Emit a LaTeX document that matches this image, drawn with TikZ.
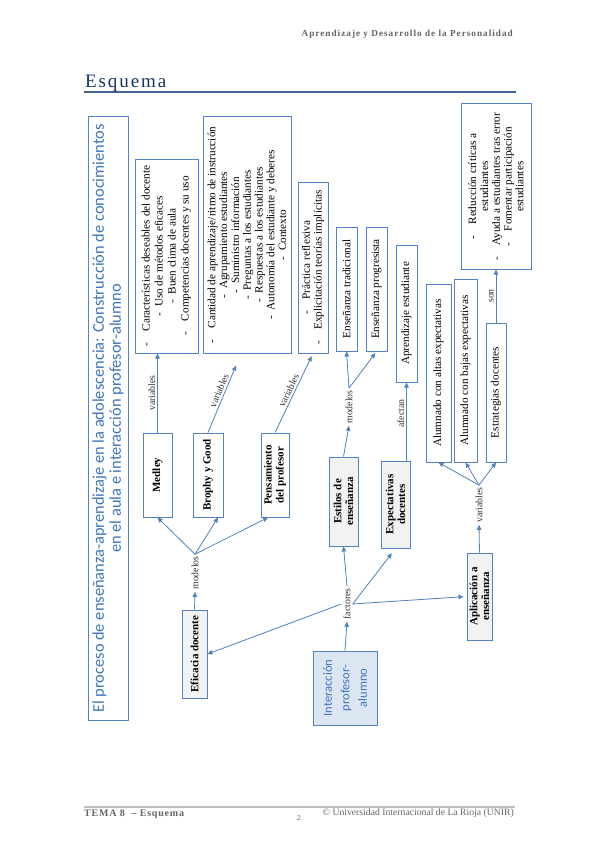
\documentclass[tikz,border=0pt]{standalone}
\usepackage{fontspec}
\setmainfont{Liberation Serif}
\newfontfamily\calibri{Carlito}
\usetikzlibrary{arrows.meta}

\definecolor{boxblue}{RGB}{84,130,200}
\definecolor{lineblue}{RGB}{79,129,189}
\definecolor{titleblue}{RGB}{60,118,190}
\definecolor{navy}{RGB}{23,54,93}
\definecolor{esqline}{RGB}{68,98,145}
\definecolor{boxgray}{RGB}{242,242,242}
\definecolor{boxlight}{RGB}{220,230,242}
\definecolor{headgray}{RGB}{100,100,100}

\tikzset{
    box/.style={draw=boxblue, line width=1pt, fill=white, rotate=90, align=center,
        inner sep=2pt, font=\fontsize{11.2}{11.8}\selectfont},
    namebox/.style={box, font=\fontsize{11}{11.8}\selectfont\bfseries},
    factbox/.style={namebox, fill=boxgray},
    boxsize/.style 2 args={minimum width=#1pt, minimum height=#2pt},
    lbl/.style={inner sep=2pt, text=black!80, font=\fontsize{9.8}{11}\selectfont},
    lblnode/.style={lbl, rotate=90},
    arr/.style={draw=lineblue, line width=0.8pt, -{Triangle[length=5pt,width=4.5pt]}},
}

\begin{document}
\begin{tikzpicture}[x=1pt, y=-1pt]
    % page
    \fill[white] (0,0) rectangle (599,848);
    \useasboundingbox (0,0) rectangle (599,848);

    % Header
        \node[anchor=east, inner sep=0pt, text=headgray,
            font=\fontsize{9.2}{10}\selectfont\bfseries\addfontfeature{LetterSpace=11}]
            (cabecera) at (513,34) {Aprendizaje y Desarrollo de la Personalidad};
        \node[anchor=base west, inner sep=0pt, text=navy,
            font=\fontsize{19}{22}\selectfont\addfontfeature{LetterSpace=10}]
            (esquema) at (85,88) {Esquema};
        \draw[line width=1.5pt, draw=esqline] (84,92) -- (516,92);

    % Title
        \node[box, boxsize={603}{40}, text=titleblue, font=\calibri\fontsize{16.4}{17}\selectfont]
            (titulo) at (108,418.5)
            {El proceso de enseñanza-aprendizaje en la adolescencia: Construcción de conocimientos\\
             en el aula e interacción profesor-alumno};

    % Top row
        \node[box, boxsize={194}{63}, font=\fontsize{11.2}{13}\selectfont] (carac) at (166.5,256)
            {-\quad Características deseables del docente\\
             -\ \ Uso de métodos eficaces\\
             -\ \ Buen clima de aula\\
             -\quad Competencias docentes y su uso};
        \node[box, boxsize={236}{88}] (cantidad) at (247,235)
            {-\quad Cantidad de aprendizaje/ritmo de instrucción\\
             -\ \ Agrupamiento estudiantes\\
             -\ \ Suministro información\\
             -\ \ Preguntas a los estudiantes\\
             -\ \ Respuestas a los estudiantes\\
             -\ \ Autonomía del estudiante y deberes\\
             -\ \ Contexto};
        \node[box, boxsize={171}{30}] (practica) at (313,267.5)
            {-\quad Práctica reflexiva\\
             -\quad Explicitación teorías implícitas};
        \node[box, boxsize={124}{21}] (tradic) at (346.5,289) {Enseñanza tradicional};
        \node[box, boxsize={124}{21}] (progres) at (376.5,289) {Enseñanza progresista};
        \node[box, boxsize={137}{21}] (aprend) at (406.5,313.5) {Aprendizaje estudiante};
        \node[box, boxsize={178}{25}] (altas) at (438.5,373) {Alumnado con altas expectativas};
        \node[box, boxsize={183}{23}] (bajas) at (465.5,370.5) {Alumnado con bajas expectativas};
        \node[box, boxsize={139}{20}] (estrat) at (496,392.5) {Estrategias docentes};
        \node[box, boxsize={165}{70}] (reduc) at (496,186.5)
            {-\quad Reducción críticas a\\
             estudiantes\\
             -\quad Ayuda a estudiantes tras error\\
             -\quad Fomentar participación\\
             estudiantes};

    % Middle row
        % variables
        \def\midRowY{475}

        \node[namebox, boxsize={84}{29}] (medley) at (157.5,\midRowY) {Medley};
        \node[namebox, boxsize={84}{30}] (brophy) at (208,\midRowY) {Brophy y Good};
        \node[namebox, boxsize={84}{28}] (pensam) at (275,\midRowY) {Pensamiento\\del profesor};
        \node[factbox, boxsize={89}{29}] (estilos) at (343.5,501.5) {Estilos de\\enseñanza};
        \node[factbox, boxsize={87}{29}] (expect) at (395.5,504.5) {Expectativas\\docentes};
        \node[factbox, boxsize={87}{25}] (aplic) at (479.5,596.5) {Aplicación a\\enseñanza};
        \node[factbox, boxsize={88}{25}] (eficacia) at (194.5,654) {Eficacia docente};
        \node[box, boxsize={74}{64}, fill=boxlight, text=titleblue,
            font=\calibri\fontsize{12.5}{17.5}\selectfont] (interac) at (345,688)
            {Interacción\\profesor-\\alumno};

    % Labels
        \node[lblnode] (lmod1) at (195,573) {modelos};
        \node[lblnode] (lfac) at (347,604) {factores};
        \node[lblnode] (lmod2) at (349,407) {modelos};
        \node[lblnode] (lvar2) at (479,505) {variables};

    % Arrows
        % eficacia docente
        \draw[arr] (eficacia.east) -- (lmod1.west);
        \draw[arr] (lmod1.east) -- (medley.west);
        \draw[arr] (lmod1.east) -- ([xshift=10pt]brophy.west);
        \draw[arr] (lmod1.east) -- ([xshift=-7pt]pensam.west);
        \draw[arr] (medley.east) -- (medley.east |- carac.west)
            node[lbl, midway, sloped, above] {variables};
        \draw[arr, shorten >=13pt] (brophy.east) -- ([xshift=-6pt]cantidad.west)
            node[lbl, midway, sloped, above] {variables};
        \draw[arr, shorten >=3pt] (pensam.east) -- (practica.west)
            node[lbl, midway, sloped, above] {variables};

        % interaccion
        \draw[arr] (interac.east) -- (lfac.west);
        \draw[arr] (lfac.east) -- (estilos.west);
        \draw[arr, shorten >=6pt] (lfac.south) -- (expect.west);
        \draw[arr, shorten >=3pt] (lfac.south) -- (aplic.north);
        \draw[arr] (lfac.north) -- (eficacia.south);

        % estilos y expectativas
        \draw[arr] (estilos.east) -- (lmod2.west);
        \draw[arr] (lmod2.east) -- (tradic.west);
        \draw[arr, shorten >=2pt] (lmod2.east) -- (progres.west);
        \draw[arr] (aprend.west |- expect.east) -- (aprend.west)
            node[lbl, pos=0.6, sloped, above] {afectan};

        % aplicacion
        \draw[arr] (aplic.east) -- (lvar2.west);
        \draw[arr] (lvar2.east) -- (altas.west);
        \draw[arr] (lvar2.east) -- (bajas.west);
        \draw[arr] (lvar2.east) -- (estrat.west);
        \draw[arr] (estrat.east) -- (reduc.west)
            node[lbl, midway, sloped, above] {son};

    % Footer
        \draw[line width=1.5pt, draw=black!25] (84,807) -- (515,807);
        \node[anchor=west, inner sep=0pt, text=headgray,
            font=\fontsize{10}{11}\selectfont\bfseries\addfontfeature{LetterSpace=8}]
            (tema) at (84,814) {TEMA 8 \ – Esquema};
        \node[inner sep=0pt, text=headgray, font=\fontsize{7.5}{9}\selectfont] (pagina) at (299,818) {2};
        \node[anchor=east, inner sep=0pt, text=headgray, font=\fontsize{9.7}{11}\selectfont]
            (unir) at (514,813) {© Universidad Internacional de La Rioja (UNIR)};
\end{tikzpicture}
\end{document}
